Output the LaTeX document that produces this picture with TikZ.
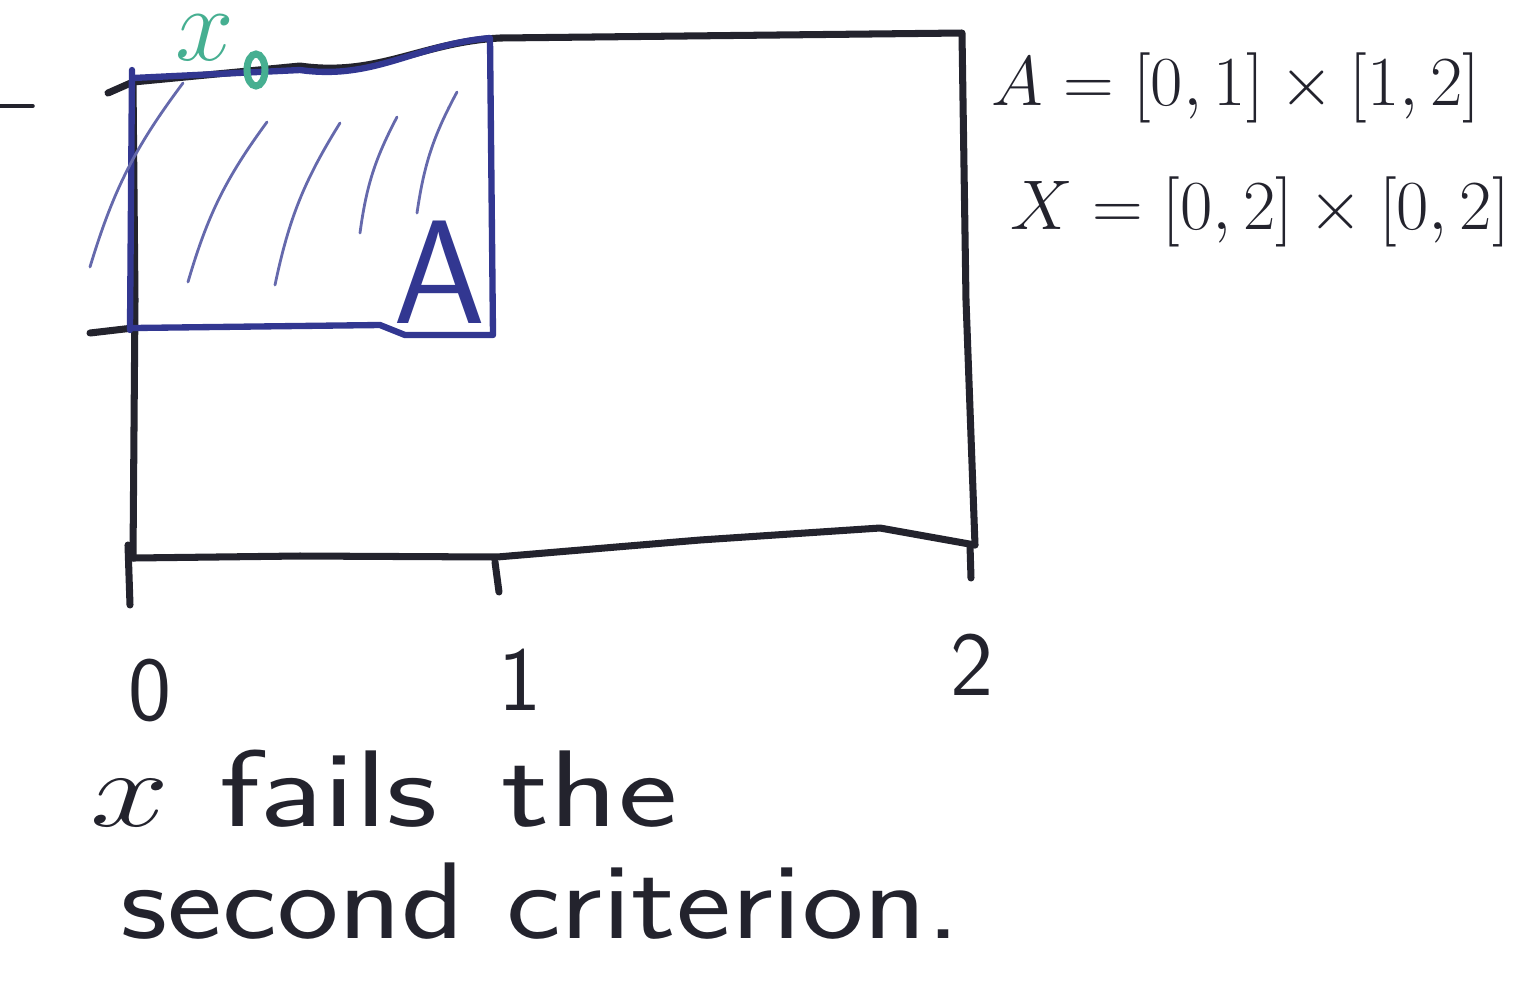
\RequirePackage{fix-cm}
\documentclass[tikz,border=0pt]{standalone}
\usepackage{fontspec}
\usepackage{tikz}
\usetikzlibrary{positioning}
\definecolor{inkblack}{RGB}{35,35,45}
\definecolor{inkblue}{RGB}{50,55,145}
\definecolor{inkgreen}{RGB}{70,175,145}
\tikzset{
  pen/.style={draw=inkblack, line width=2pt, line cap=round, line join=round},
  bluepen/.style={draw=inkblue, line width=1.8pt, line cap=round, line join=round},
  hatchline/.style={draw=inkblue!75, line width=0.8pt, line cap=round, bend left=10},
  tick/.style={inkblack, inner sep=0pt, font=\sffamily\fontsize{26}{30}\selectfont},
  setdef/.style={inkblack, inner sep=1pt, font=\fontsize{20}{24}\selectfont},
  words/.style={inkblack, anchor=base west, inner sep=0pt, font=\sffamily\fontsize{31}{36}\selectfont},
}

\begin{document}
\begin{tikzpicture}[x=0.01cm, y=-0.01cm]
\useasboundingbox (0,0) rectangle (1526,999);

% the set X
\draw[pen] (108,93) -- (133,82) -- (300,66) to[out=-8,in=183] (500,38) -- (962,33) -- (966,300) -- (975,545);
\draw[pen] (133,82) -- (135,300) -- (133,558);
\draw[pen] (133,558) -- (300,556) -- (497,557) -- (700,540) -- (880,528) -- (975,545);
\draw[pen] (90,333) -- (133,328);
\draw[pen, line width=1pt] (0,106) -- (33,106);

% ticks on the axis
\draw[pen] (128,545) -- (130,605);
\draw[pen] (495,562) -- (499,592);
\draw[pen] (970,545) -- (971,578);

% the set A
\draw[bluepen] (132,70) -- (130,330);
\draw[bluepen] (133,78) -- (300,70) to[out=-8,in=185] (490,38) -- (493,335) -- (405,335) -- (380,325) -- (133,328);
\draw[hatchline] (90,267) to (183,83);
\draw[hatchline] (188,282) to (267,122);
\draw[hatchline] (275,285) to (340,123);
\draw[hatchline] (360,233) to (397,117);
\draw[hatchline] (417,213) to (457,92);
\node[inkblue, font=\sffamily\fontsize{42}{48}\selectfont] (Alabel) at (440,272) {A};

% the point
\draw[inkgreen, line width=2pt] (256,70) ellipse (9 and 16);
\node[inkgreen, inner sep=0pt, anchor=north, font=\fontsize{30}{34}\selectfont] (xzero) at (205,14) {$x$};

% the sets
\node[setdef] (Aset) at (1236,88) {$A=[0,1]\times[1,2]$};
\node[setdef] (Xset) at (1260,212) {$X=[0,2]\times[0,2]$};

% tick labels
\node[tick] (zero) at (150,690) {0};
\node[tick] (one) at (520,680) {1};
\node[tick] (two) at (972,665) {2};

\node[words] (line1) at (90,826) {\scalebox{1.3}[1]{$x$\hspace{0.35em}fails\hspace{0.45em}the}};
\node[words] (line2) at (120,938) {\scalebox{1.2}[1]{second criterion.}};
\end{tikzpicture}
\end{document}
